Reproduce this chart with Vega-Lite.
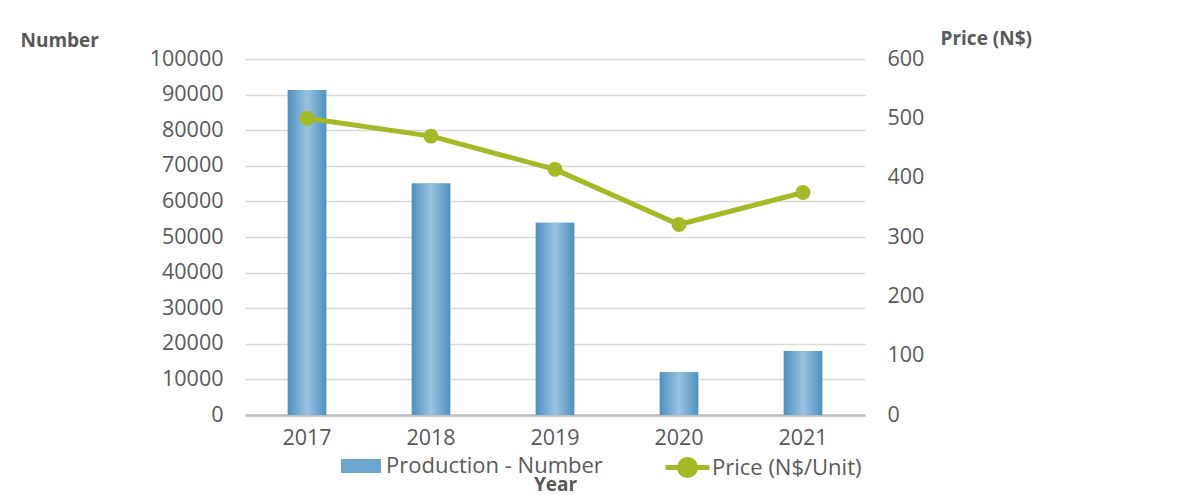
{
  "$schema": "https://vega.github.io/schema/vega-lite/v6.json",
  "width": 620,
  "height": 356,
  "autosize": {"type": "none"},
  "padding": {"left": 245, "top": 59, "right": 333, "bottom": 80},
  "background": "white",
  "config": {
    "font": "Open Sans",
    "view": {"stroke": null},
    "axis": {"labelFont": "Open Sans", "labelFontSize": 21.5, "labelColor": "#595959", "titleFont": "Open Sans", "titleFontSize": 19, "titleColor": "#595959", "titleFontWeight": "bold", "labelOverlap": false},
    "legend": {"labelFont": "Open Sans", "labelFontSize": 22, "labelColor": "#595959", "labelLimit": 400}
  },
  "data": {
    "values": [
      {"year": "2017", "production": 91300, "price": 500},
      {"year": "2018", "production": 65000, "price": 470},
      {"year": "2019", "production": 54000, "price": 414},
      {"year": "2020", "production": 12000, "price": 321},
      {"year": "2021", "production": 18000, "price": 375}
    ]
  },
  "encoding": {
    "x": {
      "field": "year", "type": "ordinal",
      "scale": {"paddingInner": 0.69, "paddingOuter": 0.345},
      "axis": {"title": "Year", "labelAngle": 0, "ticks": false, "labelPadding": 12, "domainColor": "#bfbfbf", "domainWidth": 2.5, "titleY": 79, "titleBaseline": "bottom"}
    }
  },
  "layer": [
    {
      "mark": {"type": "bar"},
      "encoding": {
        "y": {
          "field": "production", "type": "quantitative",
          "scale": {"domain": [0, 100000], "nice": false},
          "axis": {"title": "Number", "titleAngle": 0, "titleAlign": "left", "titleBaseline": "middle", "titleX": -225, "titleY": -19, "values": [0,10000,20000,30000,40000,50000,60000,70000,80000,90000,100000], "format": "d", "ticks": false, "domain": false, "labelPadding": 22, "grid": true, "gridColor": "#d9d9d9", "gridWidth": 1.5}
        },
        "fill": {
          "datum": "Production - Number",
          "scale": {"range": ["#6aa6cf"]},
          "legend": {"title": null, "orient": "none", "legendX": 105, "legendY": 396, "symbolType": "M-2,-0.7H2V0.7H-2Z", "symbolSize": 400, "symbolStrokeWidth": 0, "labelOffset": 14}
        }
      }
    },
    {
      "mark": {
        "type": "bar",
        "fill": {"gradient": "linear", "x1": 0, "y1": 0, "x2": 1, "y2": 0, "stops": [
          {"offset": 0, "color": "#4d90c0"},
          {"offset": 0.5, "color": "#98c3df"},
          {"offset": 1, "color": "#4d90c0"}
        ]}
      },
      "encoding": {
        "y": {"field": "production", "type": "quantitative", "scale": {"domain": [0, 100000], "nice": false}, "axis": null}
      }
    },
    {
      "mark": {"type": "line", "strokeWidth": 5},
      "encoding": {
        "y": {
          "field": "price", "type": "quantitative",
          "scale": {"domain": [0, 600], "nice": false},
          "axis": {"title": "Price (N$)", "orient": "right", "titleAngle": 0, "titleAlign": "left", "titleBaseline": "middle", "titleX": 75, "titleY": -21, "values": [0,100,200,300,400,500,600], "ticks": false, "domain": false, "labelPadding": 22, "grid": false}
        },
        "stroke": {
          "datum": "Price (N$/Unit)",
          "scale": {"range": ["#a5b826"]},
          "legend": {"title": null, "orient": "none", "legendX": 430, "legendY": 396, "symbolType": "M-2.2,0H2.2M-0.8,0A0.8,0.8 0 1,1 0.8,0A0.8,0.8 0 1,1 -0.8,0", "symbolSize": 400, "symbolStrokeWidth": 5, "symbolFillColor": "#a5b826", "labelOffset": 12}
        }
      }
    },
    {
      "mark": {"type": "point", "filled": true, "size": 220, "opacity": 1, "color": "#a5b826"},
      "encoding": {
        "y": {"field": "price", "type": "quantitative", "scale": {"domain": [0, 600], "nice": false}, "axis": null}
      }
    }
  ],
  "resolve": {"scale": {"y": "independent"}}
}
